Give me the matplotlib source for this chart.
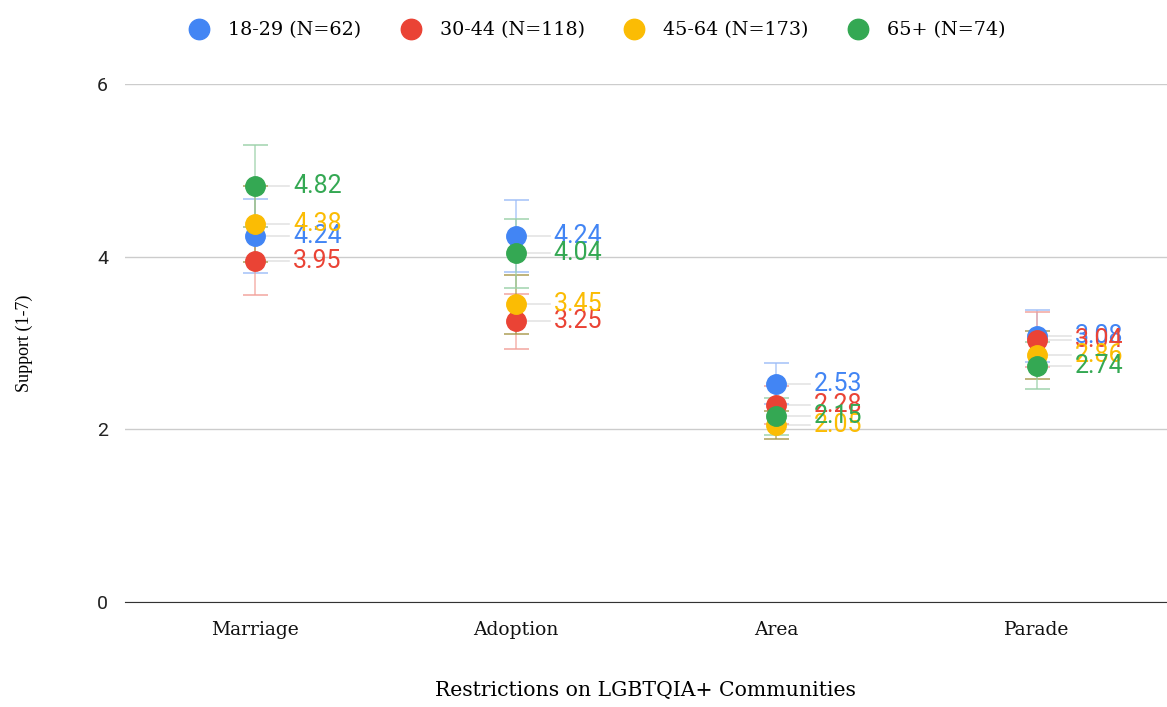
import numpy as np
import matplotlib.pyplot as plt

categories = ['Marriage', 'Adoption', 'Area', 'Parade']
groups = ['18-29 (N=62)', '30-44 (N=118)', '45-64 (N=173)', '65+ (N=74)']
colors = ['#4285F4', '#EA4335', '#FBBC04', '#34A853']
err_colors = ['#9DBDF7', '#F2A19A', '#A89A4E', '#9BD1A8']

# mean support per group, one list per age group
means_1829 = [4.24, 4.24, 2.53, 3.08]
means_3044 = [3.95, 3.25, 2.28, 3.04]
means_4564 = [4.38, 3.45, 2.05, 2.86]
means_65 = [4.82, 4.04, 2.15, 2.74]

# half-width of error bars
err_1829 = [0.43, 0.42, 0.24, 0.30]
err_3044 = [0.39, 0.32, 0.22, 0.32]
err_4564 = [0.44, 0.34, 0.16, 0.28]
err_65 = [0.48, 0.40, 0.21, 0.27]

means = [means_1829, means_3044, means_4564, means_65]
errs = [err_1829, err_3044, err_4564, err_65]

serif = ['DejaVu Serif']
times = ['Liberation Serif', 'DejaVu Serif']
sans = ['Roboto', 'DejaVu Sans']

fig = plt.figure(figsize=(11.67, 7.07), dpi=100)
ax = fig.add_axes([0.107, 0.1485, 0.893, 0.7325])

x = np.arange(len(categories))
for i, g in enumerate(groups):
    ax.errorbar(x, means[i], yerr=errs[i], fmt='none', ecolor=err_colors[i],
                elinewidth=1.1, capsize=9, capthick=1.3, alpha=0.8, zorder=2)
for i, g in enumerate(groups):
    for xi, m in zip(x, means[i]):
        ax.plot([xi, xi + 0.13], [m, m], color='#E4E4E4', lw=1.2, zorder=1)
        ax.text(xi + 0.145, m, '{:.2f}'.format(m), color=colors[i], fontsize=18,
                family=sans, va='center', ha='left', zorder=4 + i)
    ax.plot(x, means[i], 'o', color=colors[i], markersize=14, ls='none',
            label=g, zorder=4 + i)

ax.set_xlim(-0.5, 3.5)
ax.set_ylim(0, 6)
ax.set_yticks([0, 2, 4, 6])
ax.set_yticklabels(['0', '2', '4', '6'], family=sans, fontsize=14, color='#222222')
ax.set_xticks(x)
ax.set_xticklabels(categories, family=serif, fontsize=13.5, color='#111111')
ax.tick_params(length=0, pad=14)
ax.tick_params(axis='y', pad=12)
ax.yaxis.grid(True, color='#CCCCCC', lw=1)
ax.set_axisbelow(True)
for s in ['top', 'right', 'left']:
    ax.spines[s].set_visible(False)
ax.spines['bottom'].set_color('#333333')

ax.set_ylabel('Support (1-7)', family=times, fontsize=13, labelpad=46)
ax.set_xlabel('Restrictions on LGBTQIA+ Communities', family=serif, fontsize=14.7, labelpad=30)

fig.legend(loc='upper center', bbox_to_anchor=(0.508, 0.994), ncol=4, frameon=False,
           prop={'family': serif, 'size': 13.8}, handletextpad=0.5, columnspacing=1.6,
           markerscale=1.05)

fig.savefig('out.png', dpi=100)
